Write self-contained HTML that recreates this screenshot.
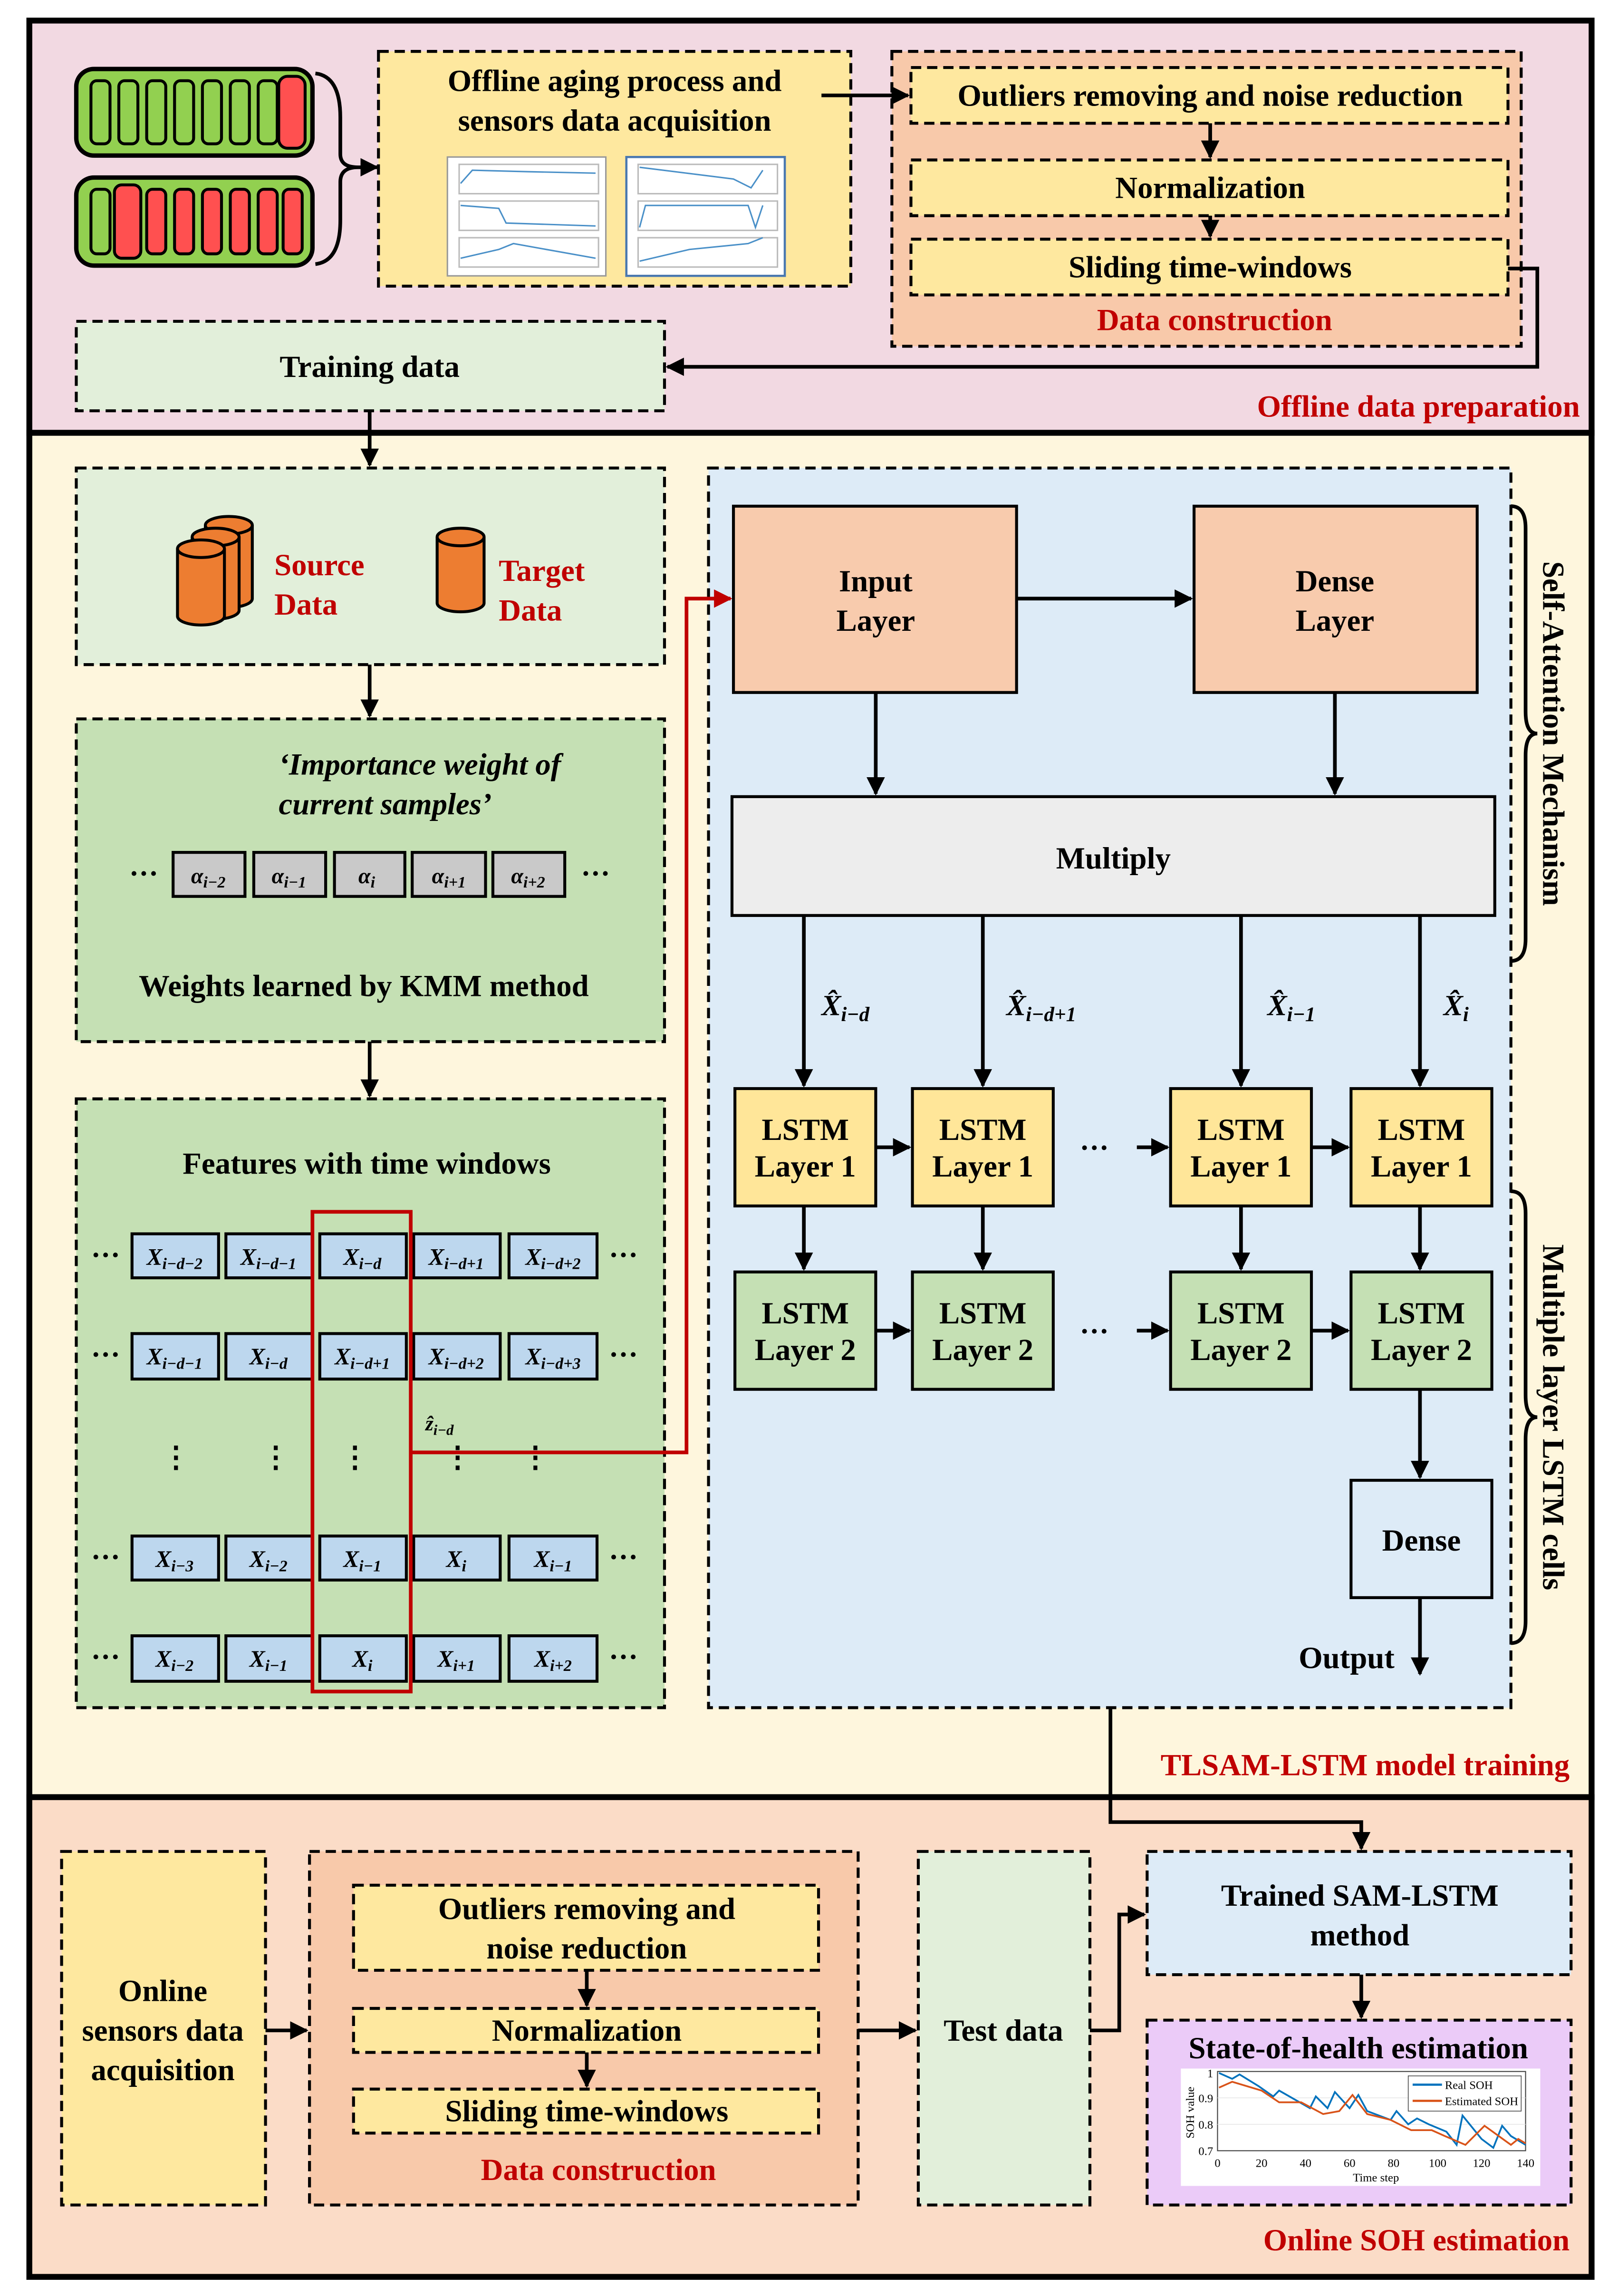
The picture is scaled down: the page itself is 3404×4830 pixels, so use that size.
<!DOCTYPE html>
<html><head><meta charset="utf-8"><style>
html,body{margin:0;padding:0;background:#fff;}
svg{display:block;}
text{font-family:"Liberation Serif",serif;font-weight:bold;}
</style></head><body>
<svg width="3404" height="4830" viewBox="0 0 1103 1565" xmlns="http://www.w3.org/2000/svg">
<defs>
<marker id="a" viewBox="0 0 10 10" refX="9" refY="5" markerWidth="5" markerHeight="5" orient="auto-start-reverse"><path d="M0,0L10,5L0,10z" fill="#000"/></marker>
<marker id="r" viewBox="0 0 10 10" refX="9" refY="5" markerWidth="5" markerHeight="5" orient="auto"><path d="M0,0L10,5L0,10z" fill="#c00000"/></marker>
</defs>
<rect width="1103" height="1565" fill="#fff"/>
<!-- panels -->
<rect x="20" y="14" width="1065" height="281" fill="#f2d9e2" stroke="#000" stroke-width="4"/>
<rect x="20" y="295" width="1065" height="930" fill="#fef6dd" stroke="#000" stroke-width="4"/>
<rect x="20" y="1225" width="1065" height="327" fill="#fbdcc7" stroke="#000" stroke-width="4"/>

<g stroke="#000" stroke-width="2" stroke-dasharray="7,4">
<rect x="258" y="35" width="322" height="160" fill="#fee89f"/>
<rect x="608" y="35" width="429" height="201" fill="#f8c9aa"/>
<rect x="52" y="219" width="401" height="61" fill="#e2efda"/>
<rect x="52" y="319" width="401" height="134" fill="#e2efda"/>
<rect x="52" y="490" width="401" height="220" fill="#c5e0b4"/>
<rect x="52" y="749" width="401" height="415" fill="#c5e0b4"/>
<rect x="483" y="319" width="547" height="845" fill="#ddebf7"/>
<rect x="621" y="46" width="407" height="38" fill="#fee89f"/>
<rect x="621" y="109" width="407" height="38" fill="#fee89f"/>
<rect x="621" y="163" width="407" height="38" fill="#fee89f"/>
<rect x="42" y="1262" width="139" height="241" fill="#fee89f"/>
<rect x="211" y="1262" width="374" height="241" fill="#f8c9aa"/>
<rect x="241" y="1285" width="317" height="58" fill="#fee89f"/>
<rect x="241" y="1369" width="317" height="30" fill="#fee89f"/>
<rect x="241" y="1424" width="317" height="30" fill="#fee89f"/>
<rect x="626" y="1262" width="117" height="241" fill="#e2efda"/>
<rect x="782" y="1262" width="289" height="84" fill="#ddebf7"/>
<rect x="782" y="1377" width="289" height="126" fill="#ebcbf8"/>
</g>

<!-- batteries -->
<g stroke="#000" stroke-width="3">
<rect x="52" y="47" width="161" height="59" rx="12" fill="#92d050"/>
<rect x="52" y="121" width="161" height="60" rx="12" fill="#92d050"/>
</g>
<g stroke="#000" stroke-width="2">
<rect x="62" y="55" width="13" height="43" rx="4" fill="#92d050"/><rect x="81" y="55" width="13" height="43" rx="4" fill="#92d050"/><rect x="100" y="55" width="13" height="43" rx="4" fill="#92d050"/><rect x="119" y="55" width="13" height="43" rx="4" fill="#92d050"/><rect x="138" y="55" width="13" height="43" rx="4" fill="#92d050"/><rect x="157" y="55" width="13" height="43" rx="4" fill="#92d050"/><rect x="176" y="55" width="13" height="43" rx="4" fill="#92d050"/><rect x="190" y="52" width="18" height="49" rx="6" fill="#ff5050"/>
<rect x="62" y="129" width="13" height="44" rx="4" fill="#92d050"/><rect x="78" y="126" width="18" height="50" rx="5" fill="#ff5050"/><rect x="100" y="129" width="13" height="44" rx="4" fill="#ff5050"/><rect x="119" y="129" width="13" height="44" rx="4" fill="#ff5050"/><rect x="138" y="129" width="13" height="44" rx="4" fill="#ff5050"/><rect x="157" y="129" width="13" height="44" rx="4" fill="#ff5050"/><rect x="176" y="129" width="13" height="44" rx="4" fill="#ff5050"/><rect x="193" y="129" width="13" height="44" rx="4" fill="#ff5050"/>
</g>
<path d="M215,50 Q232,52 232,80 L232,105 Q232,114 244,114 Q232,114 232,124 L232,150 Q232,178 215,180" fill="none" stroke="#000" stroke-width="2.5"/>
<line x1="244" y1="114" x2="257" y2="114" stroke="#000" stroke-width="2.5" marker-end="url(#a)"/>

<text x="419" y="62" font-size="21" text-anchor="middle">Offline aging process and</text>
<text x="419" y="89" font-size="21" text-anchor="middle">sensors data acquisition</text>
<!-- mini plots -->
<g stroke="#4a90c8" stroke-width="1" fill="none">
<rect x="305" y="107" width="108" height="81" fill="#fff" stroke="#999"/>
<rect x="427" y="107" width="108" height="81" fill="#fff" stroke="#4a78b0" stroke-width="1.5"/>
<rect x="313" y="112" width="95" height="20" stroke="#bbb"/><rect x="313" y="137" width="95" height="20" stroke="#bbb"/><rect x="313" y="162" width="95" height="20" stroke="#bbb"/>
<path d="M314,125 L322,116 L360,117 L406,118"/><path d="M314,140 L340,142 L345,152 L406,154"/><path d="M314,176 L340,170 L350,166 L406,176"/>
<rect x="435" y="112" width="95" height="20" stroke="#bbb"/><rect x="435" y="137" width="95" height="20" stroke="#bbb"/><rect x="435" y="162" width="95" height="20" stroke="#bbb"/>
<path d="M436,114 L500,122 L512,128 L520,116"/><path d="M436,155 L440,140 L510,140 L515,155 L520,140"/><path d="M436,178 L470,170 L510,166 L520,162"/>
</g>
<line x1="560" y1="65" x2="619" y2="65" stroke="#000" stroke-width="2.5" marker-end="url(#a)"/>

<text x="825" y="72" font-size="21" text-anchor="middle">Outliers removing and noise reduction</text>
<text x="825" y="135" font-size="21" text-anchor="middle">Normalization</text>
<text x="825" y="189" font-size="21" text-anchor="middle">Sliding time-windows</text>
<text x="828" y="225" font-size="21" text-anchor="middle" fill="#c00000">Data construction</text>
<g stroke="#000" stroke-width="2.5" fill="none">
<line x1="825" y1="84" x2="825" y2="107" marker-end="url(#a)"/>
<line x1="825" y1="147" x2="825" y2="161" marker-end="url(#a)"/>
<polyline points="1028,183 1048,183 1048,250 455,250" marker-end="url(#a)"/>
<line x1="252" y1="280" x2="252" y2="317" marker-end="url(#a)"/>
<line x1="252" y1="453" x2="252" y2="488" marker-end="url(#a)"/>
<line x1="252" y1="710" x2="252" y2="747" marker-end="url(#a)"/>
</g>
<text x="252" y="257" font-size="21" text-anchor="middle">Training data</text>
<text x="1077" y="284" font-size="21" text-anchor="end" fill="#c00000">Offline data preparation</text>

<!-- cylinders -->
<g stroke="#000" stroke-width="2" fill="#ed7d31">
<path d="M140,358 v50 a16,6 0 0 0 32,0 v-50"/><ellipse cx="156" cy="358" rx="16" ry="6"/>
<path d="M131,366 v50 a16,6 0 0 0 32,0 v-50"/><ellipse cx="147" cy="366" rx="16" ry="6"/>
<path d="M121,374 v46 a16,6 0 0 0 32,0 v-46"/><ellipse cx="137" cy="374" rx="16" ry="6"/>
<path d="M298,366 v45 a16,6 0 0 0 32,0 v-45"/><ellipse cx="314" cy="366" rx="16" ry="6"/>
</g>
<text x="187" y="392" font-size="21" fill="#c00000">Source</text>
<text x="187" y="419" font-size="21" fill="#c00000">Data</text>
<text x="340" y="396" font-size="21" fill="#c00000">Target</text>
<text x="340" y="423" font-size="21" fill="#c00000">Data</text>

<text x="190" y="528" font-size="21" font-style="italic">‘Importance weight of</text>
<text x="190" y="555" font-size="21" font-style="italic">current samples’</text>
<g stroke="#000" stroke-width="2" fill="#c9c9c9">
<rect x="118" y="581" width="49" height="30"/><rect x="173" y="581" width="49" height="30"/><rect x="228" y="581" width="48" height="30"/><rect x="281" y="581" width="50" height="30"/><rect x="336" y="581" width="49" height="30"/>
</g>
<g font-size="15" font-style="italic" text-anchor="middle">
<text x="142" y="602">α<tspan font-size="11" dy="3">i−2</tspan></text>
<text x="197" y="602">α<tspan font-size="11" dy="3">i−1</tspan></text>
<text x="250" y="602">α<tspan font-size="11" dy="3">i</tspan></text>
<text x="306" y="602">α<tspan font-size="11" dy="3">i+1</tspan></text>
<text x="360" y="602">α<tspan font-size="11" dy="3">i+2</tspan></text>
</g>
<text x="98" y="602" font-size="20" text-anchor="middle">···</text>
<text x="406" y="602" font-size="20" text-anchor="middle">···</text>
<text x="248" y="679" font-size="21" text-anchor="middle">Weights learned by KMM method</text>

<text x="250" y="800" font-size="21" text-anchor="middle">Features with time windows</text>
<g stroke="#000" stroke-width="2" fill="#bdd7ee">
<rect x="90" y="841" width="59" height="30"/><rect x="154" y="841" width="59" height="30"/><rect x="218" y="841" width="59" height="30"/><rect x="282" y="841" width="59" height="30"/><rect x="347" y="841" width="60" height="30"/>
<rect x="90" y="909" width="59" height="31"/><rect x="154" y="909" width="59" height="31"/><rect x="218" y="909" width="59" height="31"/><rect x="282" y="909" width="59" height="31"/><rect x="347" y="909" width="60" height="31"/>
<rect x="90" y="1047" width="59" height="30"/><rect x="154" y="1047" width="59" height="30"/><rect x="218" y="1047" width="59" height="30"/><rect x="282" y="1047" width="59" height="30"/><rect x="347" y="1047" width="60" height="30"/>
<rect x="90" y="1115" width="59" height="31"/><rect x="154" y="1115" width="59" height="31"/><rect x="218" y="1115" width="59" height="31"/><rect x="282" y="1115" width="59" height="31"/><rect x="347" y="1115" width="60" height="31"/>
</g>
<g font-size="16" font-style="italic" text-anchor="middle">
<text x="119" y="862">X<tspan font-size="11" dy="3">i−d−2</tspan></text>
<text x="183" y="862">X<tspan font-size="11" dy="3">i−d−1</tspan></text>
<text x="247" y="862">X<tspan font-size="11" dy="3">i−d</tspan></text>
<text x="311" y="862">X<tspan font-size="11" dy="3">i−d+1</tspan></text>
<text x="377" y="862">X<tspan font-size="11" dy="3">i−d+2</tspan></text>
<text x="119" y="930">X<tspan font-size="11" dy="3">i−d−1</tspan></text>
<text x="183" y="930">X<tspan font-size="11" dy="3">i−d</tspan></text>
<text x="247" y="930">X<tspan font-size="11" dy="3">i−d+1</tspan></text>
<text x="311" y="930">X<tspan font-size="11" dy="3">i−d+2</tspan></text>
<text x="377" y="930">X<tspan font-size="11" dy="3">i−d+3</tspan></text>
<text x="119" y="1068">X<tspan font-size="11" dy="3">i−3</tspan></text>
<text x="183" y="1068">X<tspan font-size="11" dy="3">i−2</tspan></text>
<text x="247" y="1068">X<tspan font-size="11" dy="3">i−1</tspan></text>
<text x="311" y="1068">X<tspan font-size="11" dy="3">i</tspan></text>
<text x="377" y="1068">X<tspan font-size="11" dy="3">i−1</tspan></text>
<text x="119" y="1136">X<tspan font-size="11" dy="3">i−2</tspan></text>
<text x="183" y="1136">X<tspan font-size="11" dy="3">i−1</tspan></text>
<text x="247" y="1136">X<tspan font-size="11" dy="3">i</tspan></text>
<text x="311" y="1136">X<tspan font-size="11" dy="3">i+1</tspan></text>
<text x="377" y="1136">X<tspan font-size="11" dy="3">i+2</tspan></text>
</g>
<g font-size="20" text-anchor="middle">
<text x="72" y="862">···</text><text x="425" y="862">···</text>
<text x="72" y="930">···</text><text x="425" y="930">···</text>
<text x="72" y="1068">···</text><text x="425" y="1068">···</text>
<text x="72" y="1136">···</text><text x="425" y="1136">···</text>
<text x="120" y="1000">⋮</text><text x="188" y="1000">⋮</text><text x="242" y="1000">⋮</text><text x="312" y="1000">⋮</text><text x="365" y="1000">⋮</text>
</g>
<rect x="213" y="826" width="67" height="327" fill="none" stroke="#c00000" stroke-width="2.5"/>
<polyline points="280,990 468,990 468,408 498,408" fill="none" stroke="#c00000" stroke-width="2.5" marker-end="url(#r)"/>
<text x="290" y="975" font-size="14" font-style="italic">ẑ<tspan font-size="10" dy="3">i−d</tspan></text>

<!-- model -->
<g stroke="#000" stroke-width="2">
<rect x="500" y="345" width="193" height="127" fill="#f8cbad"/>
<rect x="814" y="345" width="193" height="127" fill="#f8cbad"/>
<rect x="499" y="543" width="520" height="81" fill="#ededed"/>
<rect x="501" y="742" width="96" height="80" fill="#ffe699"/><rect x="622" y="742" width="96" height="80" fill="#ffe699"/><rect x="798" y="742" width="96" height="80" fill="#ffe699"/><rect x="921" y="742" width="96" height="80" fill="#ffe699"/>
<rect x="501" y="867" width="96" height="80" fill="#c5e0b4"/><rect x="622" y="867" width="96" height="80" fill="#c5e0b4"/><rect x="798" y="867" width="96" height="80" fill="#c5e0b4"/><rect x="921" y="867" width="96" height="80" fill="#c5e0b4"/>
<rect x="921" y="1009" width="96" height="80" fill="#ddebf7"/>
</g>
<g font-size="21" text-anchor="middle">
<text x="597" y="403">Input</text><text x="597" y="430">Layer</text>
<text x="910" y="403">Dense</text><text x="910" y="430">Layer</text>
<text x="759" y="592">Multiply</text>
<text x="549" y="777">LSTM</text><text x="549" y="802">Layer 1</text>
<text x="670" y="777">LSTM</text><text x="670" y="802">Layer 1</text>
<text x="846" y="777">LSTM</text><text x="846" y="802">Layer 1</text>
<text x="969" y="777">LSTM</text><text x="969" y="802">Layer 1</text>
<text x="549" y="902">LSTM</text><text x="549" y="927">Layer 2</text>
<text x="670" y="902">LSTM</text><text x="670" y="927">Layer 2</text>
<text x="846" y="902">LSTM</text><text x="846" y="927">Layer 2</text>
<text x="969" y="902">LSTM</text><text x="969" y="927">Layer 2</text>
<text x="969" y="1057">Dense</text>
<text x="918" y="1137">Output</text>
</g>
<g font-size="20" font-style="italic">
<text x="560" y="692">X̂<tspan font-size="14" dy="4">i−d</tspan></text>
<text x="686" y="692">X̂<tspan font-size="14" dy="4">i−d+1</tspan></text>
<text x="864" y="692">X̂<tspan font-size="14" dy="4">i−1</tspan></text>
<text x="984" y="692">X̂<tspan font-size="14" dy="4">i</tspan></text>
</g>
<g stroke="#000" stroke-width="2.5" fill="none">
<line x1="693" y1="408" x2="812" y2="408" marker-end="url(#a)"/>
<line x1="597" y1="472" x2="597" y2="541" marker-end="url(#a)"/>
<line x1="910" y1="472" x2="910" y2="541" marker-end="url(#a)"/>
<line x1="548" y1="624" x2="548" y2="740" marker-end="url(#a)"/>
<line x1="670" y1="624" x2="670" y2="740" marker-end="url(#a)"/>
<line x1="846" y1="624" x2="846" y2="740" marker-end="url(#a)"/>
<line x1="968" y1="624" x2="968" y2="740" marker-end="url(#a)"/>
<line x1="597" y1="782" x2="620" y2="782" marker-end="url(#a)"/>
<line x1="775" y1="782" x2="796" y2="782" marker-end="url(#a)"/>
<line x1="894" y1="782" x2="919" y2="782" marker-end="url(#a)"/>
<line x1="597" y1="907" x2="620" y2="907" marker-end="url(#a)"/>
<line x1="775" y1="907" x2="796" y2="907" marker-end="url(#a)"/>
<line x1="894" y1="907" x2="919" y2="907" marker-end="url(#a)"/>
<line x1="548" y1="822" x2="548" y2="865" marker-end="url(#a)"/>
<line x1="670" y1="822" x2="670" y2="865" marker-end="url(#a)"/>
<line x1="846" y1="822" x2="846" y2="865" marker-end="url(#a)"/>
<line x1="968" y1="822" x2="968" y2="865" marker-end="url(#a)"/>
<line x1="968" y1="947" x2="968" y2="1007" marker-end="url(#a)"/>
<line x1="968" y1="1089" x2="968" y2="1141" marker-end="url(#a)"/>
<polyline points="757,1164 757,1242 928,1242 928,1260" marker-end="url(#a)"/>
<path d="M1030,345 Q1040,345 1040,360 L1040,485 Q1040,500 1048,500 Q1040,500 1040,515 L1040,640 Q1040,655 1030,655"/>
<path d="M1030,812 Q1040,812 1040,827 L1040,951 Q1040,966 1048,966 Q1040,966 1040,981 L1040,1105 Q1040,1120 1030,1120"/>
</g>
<text x="746" y="789" font-size="20" text-anchor="middle">···</text>
<text x="746" y="914" font-size="20" text-anchor="middle">···</text>
<text transform="translate(1052,500) rotate(90)" font-size="21" text-anchor="middle">Self-Attention Mechanism</text>
<text transform="translate(1052,966) rotate(90)" font-size="21" text-anchor="middle">Multiple layer LSTM cells</text>
<text x="1070" y="1210" font-size="21" text-anchor="end" fill="#c00000">TLSAM-LSTM model training</text>

<!-- panel 3 -->
<g font-size="21" text-anchor="middle">
<text x="111" y="1364">Online</text><text x="111" y="1391">sensors data</text><text x="111" y="1418">acquisition</text>
<text x="400" y="1308">Outliers removing and</text><text x="400" y="1335">noise reduction</text>
<text x="400" y="1391">Normalization</text>
<text x="400" y="1446">Sliding time-windows</text>
<text x="408" y="1486" fill="#c00000">Data construction</text>
<text x="684" y="1391">Test data</text>
<text x="927" y="1299">Trained SAM-LSTM</text><text x="927" y="1326">method</text>
<text x="926" y="1403">State-of-health estimation</text>
</g>
<text x="1070" y="1534" font-size="21" text-anchor="end" fill="#c00000">Online SOH estimation</text>
<g stroke="#000" stroke-width="2.5" fill="none">
<line x1="181" y1="1384" x2="209" y2="1384" marker-end="url(#a)"/>
<line x1="400" y1="1343" x2="400" y2="1367" marker-end="url(#a)"/>
<line x1="400" y1="1399" x2="400" y2="1422" marker-end="url(#a)"/>
<line x1="585" y1="1384" x2="624" y2="1384" marker-end="url(#a)"/>
<polyline points="743,1384 763,1384 763,1305 780,1305" marker-end="url(#a)"/>
<line x1="928" y1="1346" x2="928" y2="1375" marker-end="url(#a)"/>
</g>
<!-- chart -->
<rect x="805" y="1410" width="245" height="80" fill="#fff"/>
<rect x="830" y="1412" width="210" height="54" fill="none" stroke="#444" stroke-width="0.7"/>
<g stroke="#e6e6e6" stroke-width="0.5"><line x1="830" y1="1430" x2="1040" y2="1430"/><line x1="830" y1="1448" x2="1040" y2="1448"/></g>
<polyline fill="none" stroke="#0072bd" stroke-width="1.2" points="831,1413 840,1417 845,1414 858,1422 868,1429 872,1425 893,1437 897,1429 905,1437 910,1426 920,1437 926,1428 932,1439 948,1445 952,1439 960,1448 966,1444 974,1448 986,1453 993,1462 997,1442 1010,1458 1018,1464 1024,1449 1030,1456 1040,1462"/>
<polyline fill="none" stroke="#d95319" stroke-width="1.2" points="831,1423 840,1419 860,1425 872,1433 887,1433 902,1441 913,1439 922,1428 932,1441 948,1445 962,1452 976,1452 985,1456 999,1462 1012,1449 1030,1462 1035,1458 1040,1461"/>
<rect x="960" y="1415" width="77" height="24" fill="#fff" stroke="#444" stroke-width="0.5"/>
<line x1="963" y1="1421" x2="983" y2="1421" stroke="#0072bd" stroke-width="1.5"/>
<line x1="963" y1="1432" x2="983" y2="1432" stroke="#d95319" stroke-width="1.5"/>
<g style="font-weight:normal" font-size="8">
<text x="985" y="1424" style="font-weight:normal">Real SOH</text>
<text x="985" y="1435" style="font-weight:normal">Estimated SOH</text>
<text x="827" y="1416" text-anchor="end" style="font-weight:normal">1</text>
<text x="827" y="1433" text-anchor="end" style="font-weight:normal">0.9</text>
<text x="827" y="1451" text-anchor="end" style="font-weight:normal">0.8</text>
<text x="827" y="1469" text-anchor="end" style="font-weight:normal">0.7</text>
<text x="830" y="1477" text-anchor="middle" style="font-weight:normal">0</text>
<text x="860" y="1477" text-anchor="middle" style="font-weight:normal">20</text>
<text x="890" y="1477" text-anchor="middle" style="font-weight:normal">40</text>
<text x="920" y="1477" text-anchor="middle" style="font-weight:normal">60</text>
<text x="950" y="1477" text-anchor="middle" style="font-weight:normal">80</text>
<text x="980" y="1477" text-anchor="middle" style="font-weight:normal">100</text>
<text x="1010" y="1477" text-anchor="middle" style="font-weight:normal">120</text>
<text x="1040" y="1477" text-anchor="middle" style="font-weight:normal">140</text>
<text x="938" y="1487" text-anchor="middle" style="font-weight:normal">Time step</text>
<text transform="translate(814,1440) rotate(-90)" text-anchor="middle" style="font-weight:normal">SOH value</text>
</g>
</svg>
</body></html>
